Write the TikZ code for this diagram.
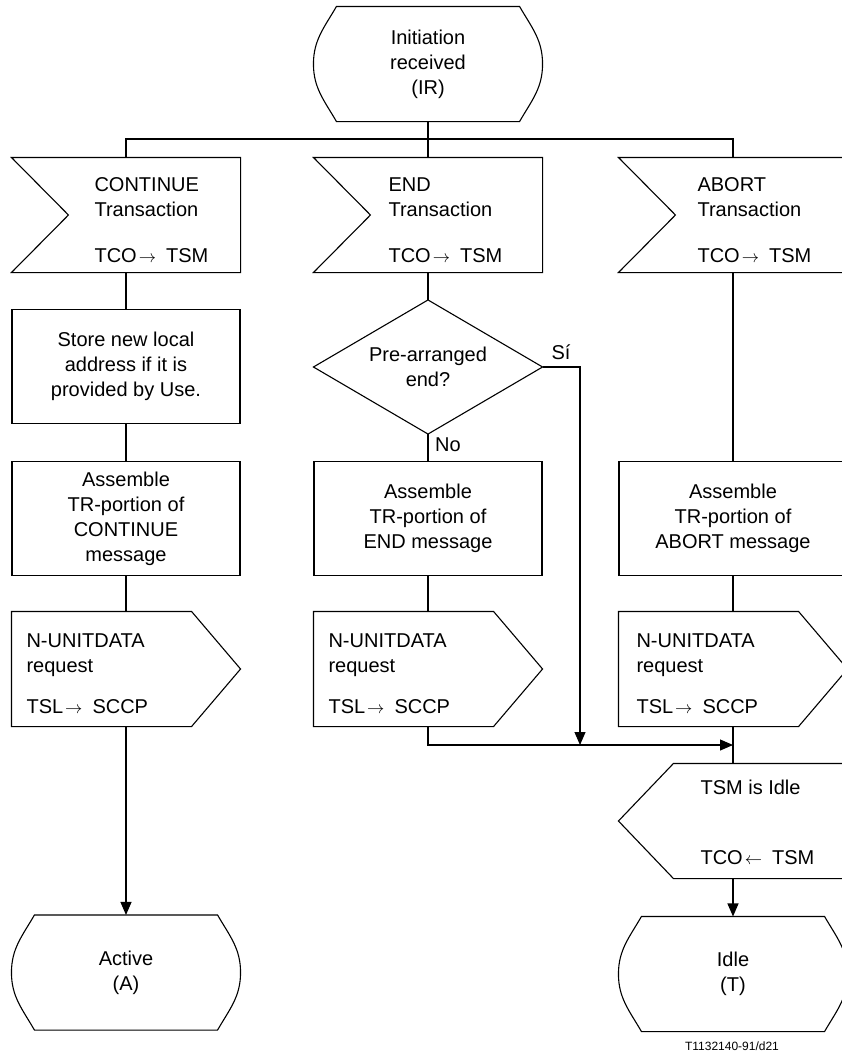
\documentclass[tikz,border=0pt]{standalone}
\usepackage{fontspec}
\setmainfont{Liberation Sans}
\usetikzlibrary{arrows.meta}

\newcommand{\toarrow}{\hspace{2pt}{\fontsize{17}{17}\selectfont$\rightarrow$}\hspace{10pt}}
\newcommand{\fromarrow}{\hspace{2pt}{\fontsize{17}{17}\selectfont$\leftarrow$}\hspace{10pt}}

\tikzset{
  sym/.style={minimum width=228, minimum height=114, inner sep=0pt, align=center},
  task/.style={sym, draw},
  inpt/.style={sym, append after command={\pgfextra{
    \draw (\tikzlastnode.north west) -- (\tikzlastnode.north east) -- (\tikzlastnode.south east)
      -- (\tikzlastnode.south west) -- ([xshift=57]\tikzlastnode.west) -- cycle;}}},
  outp/.style={sym, append after command={\pgfextra{
    \draw (\tikzlastnode.north west) -- ([xshift=-49]\tikzlastnode.north east) -- (\tikzlastnode.east)
      -- ([xshift=-49]\tikzlastnode.south east) -- (\tikzlastnode.south west) -- cycle;}}},
  outl/.style={sym, append after command={\pgfextra{
    \draw ([xshift=55]\tikzlastnode.north west) -- (\tikzlastnode.north east) -- (\tikzlastnode.south east)
      -- ([xshift=55]\tikzlastnode.south west) -- (\tikzlastnode.west) -- cycle;}}},
  state/.style={sym, append after command={\pgfextra{
    \draw ([xshift=23]\tikzlastnode.north west) -- ([xshift=-23]\tikzlastnode.north east)
      to[out=-60,in=90] (\tikzlastnode.east) to[out=-90,in=60] ([xshift=-23]\tikzlastnode.south east)
      -- ([xshift=23]\tikzlastnode.south west)
      to[out=120,in=-90] (\tikzlastnode.west) to[out=90,in=-120] cycle;}}},
  decis/.style={sym, minimum height=133, append after command={\pgfextra{
    \draw (\tikzlastnode.north) -- (\tikzlastnode.east) -- (\tikzlastnode.south)
      -- (\tikzlastnode.west) -- cycle;}}},
  txt/.style={inner sep=0pt, align=left, anchor=west},
}

\begin{document}
\begin{tikzpicture}[x=1pt, y=-1pt, line width=1.1pt, font=\fontsize{20}{25}\selectfont,
    >={Triangle[length=13pt,width=11pt]}]
  \useasboundingbox (0,0) rectangle (842,1060);

  % start state
  \node[state] (ir) at (428,64) {Initiation\\received\\(IR)};
  \coordinate (br) at (428,139);

  % inputs
  \node[inpt] (in1) at (126,215) {};
  \node[inpt] (in2) at (428,215) {};
  \node[inpt] (in3) at (733,215) {};
  \node[txt] (in1t) at (94,220) {CONTINUE\\Transaction\\[21pt]TCO\toarrow TSM};
  \node[txt] (in2t) at (388,220) {END\\Transaction\\[21pt]TCO\toarrow TSM};
  \node[txt] (in3t) at (697,220) {ABORT\\Transaction\\[21pt]TCO\toarrow TSM};

  \draw (ir.south) -- (br);
  \draw (in1.north) |- (br) -| (in3.north);
  \draw (br) -- (in2.north);

  % tasks and decision
  \node[task] (st1) at (126,366.5) {Store new local\\address if it is\\provided by Use.};
  \node[decis] (dec) at (428,367) {Pre-arranged\\end?};
  \node[task] (as1) at (126,518.5) {Assemble\\TR-portion of\\CONTINUE\\message};
  \node[task] (as2) at (428,518.5) {Assemble\\TR-portion of\\END message};
  \node[task] (as3) at (733,518.5) {Assemble\\TR-portion of\\ABORT message};
  \node (si) at (561,352) {Sí};
  \node (no) at (448,445) {No};

  % outputs
  \node[outp] (out1) at (126,669) {};
  \node[outp] (out2) at (428,669) {};
  \node[outp] (out3) at (733,669) {};
  \node[txt] (out1t) at (26,674) {N-UNITDATA\\request\\[16pt]TSL\toarrow SCCP};
  \node[txt] (out2t) at (328,674) {N-UNITDATA\\request\\[16pt]TSL\toarrow SCCP};
  \node[txt] (out3t) at (636,674) {N-UNITDATA\\request\\[16pt]TSL\toarrow SCCP};

  \node[outl] (tsm) at (733,821) {};
  \node[txt] (tsmt) at (700,822) {TSM is Idle\\[45pt]TCO\fromarrow TSM};

  % end states
  \node[state] (act) at (126,972.5) {Active\\(A)};
  \node[state] (idl) at (733,974) {Idle\\(T)};
  \node[font=\fontsize{12}{14}\selectfont] (fig) at (732,1046) {T1132140-91/d21};

  \coordinate (jn) at (580,745);
  \coordinate (mrg) at (733,745);

  \draw (in1.south) -- (st1.north);
  \draw (st1.south) -- (as1.north);
  \draw (as1.south) -- (out1.north);
  \draw[->] (out1.south) -- (act.north);

  \draw (in2.south) -- (dec.north);
  \draw (dec.south) -- (as2.north);
  \draw (as2.south) -- (out2.north);
  \draw[->] (dec.east) -| (jn);
  \draw[->] (out2.south) |- (mrg);

  \draw (in3.south) -- (as3.north);
  \draw (as3.south) -- (out3.north);
  \draw (out3.south) -- (tsm.north);
  \draw[->] (tsm.south) -- (idl.north);
\end{tikzpicture}
\end{document}
